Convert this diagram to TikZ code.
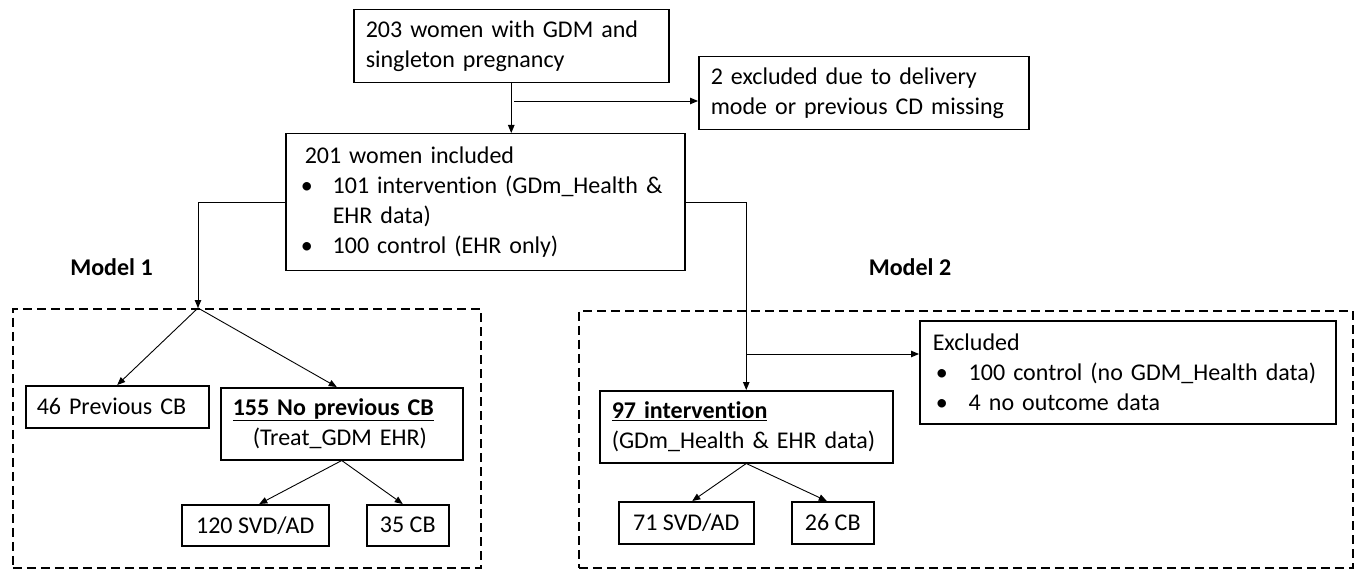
\documentclass[tikz,border=0pt]{standalone}
\usepackage{fontspec}
\setmainfont[Ligatures={NoCommon,NoContextual},RawFeature={-clig;-dlig}]{Carlito}
\usetikzlibrary{arrows.meta}
\begin{document}
\begin{tikzpicture}[x=1pt,y=-1pt,
  txt/.style={font=\fontsize{24}{30}\selectfont},
  bx/.style={txt, draw, line width=1.5pt, anchor=north west, inner ysep=0pt, align=left},
  sbx/.style={txt, draw, line width=1.5pt, anchor=north west, inner sep=0pt, align=center},
  dbx/.style={draw, line width=1.5pt, dash pattern=on 9pt off 5pt, anchor=north west, inner sep=0pt},
  lbl/.style={font=\fontsize{24}{30}\selectfont\bfseries},
  conn/.style={line width=0.9pt},
  arr/.style={conn, -{Triangle[length=8pt,width=6.5pt]}}]
\useasboundingbox (0,0) rectangle (1354,569);
% dashed groups
\node[dbx, minimum width=468pt, minimum height=259pt] (d1) at (12,308) {};
\node[dbx, minimum width=774pt, minimum height=257pt] (d2) at (578,310) {};
% top boxes
\node[bx, inner xsep=12pt, text width=291pt, minimum height=73pt] (top) at (353,9)
  {203 women with GDM and\\singleton pregnancy};
\node[bx, inner xsep=12pt, text width=306pt, minimum height=73pt] (ex1) at (698,56)
  {2 excluded due to delivery\\mode or previous CD missing};
\node[bx, inner xsep=15pt, text width=369pt, minimum height=137pt] (incl) at (285,133)
  {\hspace*{4pt}201 women included\\
   \makebox[32pt][l]{\textbullet}101 intervent\kern0pt ion (GDm\_Health \&\\
   \hspace*{32pt}EHR data)\\
   \makebox[32pt][l]{\textbullet}100 control (EHR only)};
% model labels
\node[lbl] (m1) at (111.5,267) {Model 1};
\node[lbl] (m2) at (910,267) {Model 2};
% model 1
\node[bx, inner xsep=11pt, text width=161pt, minimum height=42pt] (b46) at (25,385) {46 Previous CB};
\node[bx, inner xsep=12pt, text width=218pt, minimum height=72pt] (b155) at (220,387)
  {\underline{\textbf{155 No previous CB}}\\\hspace*{20pt}(Treat\_GDM EHR)};
\node[sbx, minimum width=147pt, minimum height=41pt] (b120) at (181,504) {120 SVD/AD};
\node[sbx, minimum width=82pt, minimum height=41pt] (b35) at (366,504) {35 CB};
% model 2
\node[bx, inner xsep=12pt, text width=269pt, minimum height=72pt] (b97) at (599,390)
  {\underline{\textbf{97 intervent\kern0pt ion}}\\(GDm\_Health \& EHR data)};
\node[bx, inner xsep=13pt, text width=390pt, minimum height=103pt] (ex2) at (919,320)
  {Excluded\\
   \hspace*{3pt}\makebox[33pt][l]{\textbullet}100 control (no GDM\_Health data)\\
   \hspace*{3pt}\makebox[33pt][l]{\textbullet}4 no outcome data};
\node[sbx, minimum width=135pt, minimum height=42pt] (b71) at (618,501) {71 SVD/AD};
\node[sbx, minimum width=82pt, minimum height=42pt] (b26) at (791,501) {26 CB};
% coordinates
\coordinate (j1) at (514,101);
\coordinate (s1) at (198,308);
\coordinate (j2) at (747,354);
% connectors
\draw[arr] (top.south) -- (top.south |- incl.north);
\draw[arr] (j1) -- (j1 -| ex1.west);
\draw[arr] (incl.west) -| (s1);
\draw[arr] (s1) -- (b46.north);
\draw[arr] (s1) -- ([xshift=-5pt]b155.north);
\draw[arr] (b155.south) -- ([xshift=4pt]b120.north);
\draw[arr] (b155.south) -- ([xshift=-5pt]b35.north);
\draw[arr] (incl.east) -| (b97.north);
\draw[arr] (j2) -- (j2 -| ex2.west);
\draw[arr] (b97.south) -- ([xshift=6pt]b71.north);
\draw[arr] (b97.south) -- ([xshift=-6pt]b26.north);
\end{tikzpicture}
\end{document}
